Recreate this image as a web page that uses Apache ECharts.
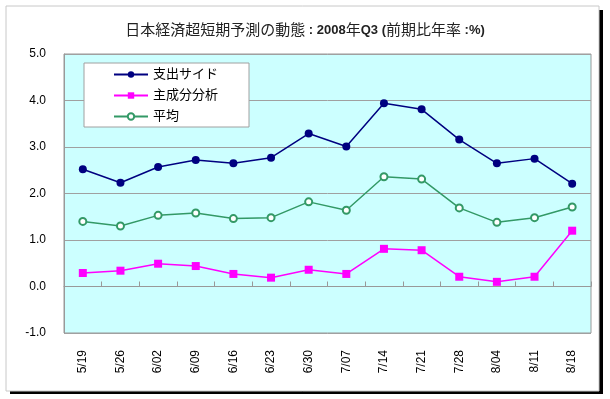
<!DOCTYPE html>
<html>
<head>
<meta charset="utf-8">
<script src="https://cdn.jsdelivr.net/npm/echarts@6/dist/echarts.min.js"></script>
<style>
html, body { margin: 0; padding: 0; background: #fff; }
#main { width: 610px; height: 399px; }
</style>
</head>
<body>
<div id="main"></div>
<script>
var dates = ['5/19', '5/26', '6/02', '6/09', '6/16', '6/23', '6/30', '7/07', '7/14', '7/21', '7/28', '8/04', '8/11', '8/18'];
var spending = [2.52, 2.23, 2.57, 2.72, 2.65, 2.77, 3.29, 3.01, 3.94, 3.81, 3.16, 2.65, 2.75, 2.21];
var principal = [0.29, 0.34, 0.49, 0.44, 0.27, 0.19, 0.36, 0.27, 0.81, 0.78, 0.21, 0.10, 0.21, 1.20];
var average = [1.40, 1.30, 1.53, 1.58, 1.46, 1.48, 1.82, 1.64, 2.36, 2.31, 1.69, 1.38, 1.48, 1.71];

var font = '"Liberation Sans", "Noto Sans CJK JP", sans-serif';

var dom = document.getElementById('main');
var myChart = echarts.init(dom, null, { renderer: 'canvas' });

var option = {
    backgroundColor: '#fff',
    animation: false,
    textStyle: { fontFamily: font },
    graphic: [
        // frame with black shadow
        { type: 'rect', z: -10, shape: { x: 10, y: 10, width: 593, height: 384 }, style: { fill: '#000' } },
        { type: 'rect', z: -9, shape: { x: 6, y: 6, width: 593, height: 385 }, style: { fill: '#fff', stroke: '#c8c8c8', lineWidth: 1 } }
    ],
    title: {
        text: '{a|日本経済超短期予測の動態}{b| : 2008}{a|年}{b|Q3 (}{a|前期比年率}{b| :%)}',
        left: 'center',
        top: 18,
        textStyle: {
            rich: {
                a: { fontFamily: font, fontSize: 15, fontWeight: 'normal', color: '#222' },
                b: { fontFamily: font, fontSize: 13, fontWeight: 'bold', color: '#222' }
            }
        }
    },
    legend: {
        orient: 'vertical',
        left: 84,
        top: 63,
        padding: [5, 31, 4, 29],
        itemWidth: 34,
        itemHeight: 8,
        itemGap: 8,
        backgroundColor: '#fff',
        borderColor: '#a0a0a0',
        borderWidth: 1,
        textStyle: { fontSize: 13, color: '#000', fontFamily: font },
        data: ['支出サイド', '主成分分析', '平均']
    },
    grid: {
        left: 64,
        right: 19,
        top: 54,
        bottom: 66,
        show: true,
        backgroundColor: '#ccffff',
        borderColor: '#999',
        borderWidth: 1
    },
    xAxis: [
        {
            type: 'category',
            data: dates,
            position: 'bottom',
            axisLine: { show: false, onZero: false },
            axisTick: { show: false },
            axisLabel: { rotate: 90, fontSize: 12, color: '#000', margin: 17, fontFamily: font }
        },
        {
            type: 'category',
            data: dates,
            position: 'bottom',
            axisLine: { show: true, onZero: true, lineStyle: { color: '#999', width: 1 } },
            axisTick: { show: true, inside: true, length: 5, lineStyle: { color: '#999' } },
            axisLabel: { show: false }
        }
    ],
    yAxis: {
        type: 'value',
        min: -1,
        max: 5,
        interval: 1,
        axisLine: { show: true, lineStyle: { color: '#999' } },
        axisTick: { show: false },
        splitLine: { lineStyle: { color: '#a0a0a0', width: 1 } },
        axisLabel: {
            fontSize: 12,
            color: '#000',
            margin: 18,
            fontFamily: font,
            formatter: function (v) { return v.toFixed(1); }
        }
    },
    series: [
        {
            name: '支出サイド',
            type: 'line',
            data: spending,
            color: '#000080',
            symbol: 'circle',
            symbolSize: 8,
            lineStyle: { width: 1.5, color: '#000080' },
            itemStyle: { color: '#000080' }
        },
        {
            name: '主成分分析',
            type: 'line',
            data: principal,
            color: '#ff00ff',
            symbol: 'rect',
            symbolSize: 8,
            lineStyle: { width: 1.5, color: '#ff00ff' },
            itemStyle: { color: '#ff00ff' }
        },
        {
            name: '平均',
            type: 'line',
            data: average,
            color: '#339966',
            symbol: 'emptyCircle',
            symbolSize: 7,
            lineStyle: { width: 1.5, color: '#339966' },
            itemStyle: { color: '#339966', borderWidth: 1 }
        }
    ]
};

if (option && typeof option === 'object') {
    myChart.setOption(option);
}

window.addEventListener('resize', myChart.resize);
</script>
</body>
</html>
